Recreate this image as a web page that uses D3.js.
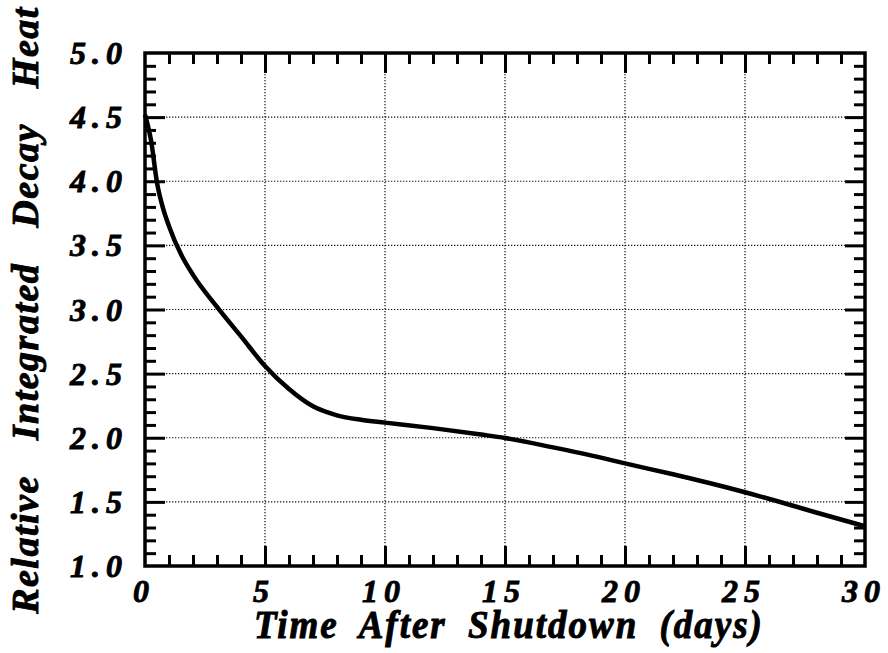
<!DOCTYPE html>
<html>
<head>
<meta charset="utf-8">
<script src="https://cdn.jsdelivr.net/npm/d3@7"></script>
<style>
  body { margin: 0; background: #fff; }
  text { font-family: "Liberation Serif", "Times New Roman", serif; font-weight: bold; font-style: italic;
         fill: #000; stroke: #000; stroke-width: 0.9px; }
</style>
</head>
<body>
<svg id="chart"></svg>
<script>
// values
const days = [0, 0.25, 0.5, 0.75, 1, 1.5, 2, 3, 4, 5, 6, 7, 8, 9, 10, 12, 14, 15, 17, 19, 20, 22, 25, 27, 28, 30];
const heat = [4.52, 4.32, 3.99, 3.79, 3.65, 3.43, 3.27, 3.02, 2.79, 2.56, 2.38, 2.245, 2.175, 2.14, 2.118, 2.075, 2.025, 1.998, 1.925, 1.845, 1.80, 1.715, 1.575, 1.47, 1.415, 1.31];
const xMajor = [0, 5, 10, 15, 20, 25, 30];
const yMajor = [1.0, 1.5, 2.0, 2.5, 3.0, 3.5, 4.0, 4.5, 5.0];
const xTitle = "Time After Shutdown (days)";
const yTitle = "Relative Integrated Decay Heat";

const W = 888, H = 653;
const margin = {top: 53, right: 23, bottom: 87, left: 145};
const w = W - margin.left - margin.right, h = H - margin.top - margin.bottom;

const svg = d3.select("#chart").attr("width", W).attr("height", H);
const g = svg.append("g").attr("transform", `translate(${margin.left},${margin.top})`);

const x = d3.scaleLinear().domain([0, 30]).range([0, w]);
const y = d3.scaleLinear().domain([1, 5]).range([h, 0]);

const xMinor = d3.range(1, 30).filter(d => d % 5 !== 0);
const yMinor = d3.range(11, 50).map(d => d / 10).filter(d => Math.round(d * 10) % 5 !== 0);
const xInner = xMajor.slice(1, -1), yInner = yMajor.slice(1, -1);

// dotted grid
g.append("g").selectAll("line").data(xInner).join("line")
  .attr("x1", d => x(d)).attr("x2", d => x(d)).attr("y1", 0).attr("y2", h)
  .attr("stroke", "#111").attr("stroke-width", 1.2).attr("stroke-dasharray", "1.3,1.7");
g.append("g").selectAll("line").data(yInner).join("line")
  .attr("y1", d => y(d)).attr("y2", d => y(d)).attr("x1", 0).attr("x2", w)
  .attr("stroke", "#111").attr("stroke-width", 1.2).attr("stroke-dasharray", "1.3,1.7");

// inward ticks on all four sides
const sides = [
  [() => d3.axisBottom(x), `translate(0,${h})`, xMinor, xInner],
  [() => d3.axisTop(x), "translate(0,0)", xMinor, xInner],
  [() => d3.axisLeft(y), "translate(0,0)", yMinor, yInner],
  [() => d3.axisRight(y), `translate(${w},0)`, yMinor, yInner]
];
sides.forEach(([makeAxis, tr, minor, major]) => {
  [[minor, 11], [major, 20]].forEach(([vals, len]) => {
    const a = g.append("g").attr("transform", tr)
      .call(makeAxis().tickValues(vals).tickSizeInner(-len).tickSizeOuter(0).tickFormat(""));
    a.select(".domain").remove();
    a.selectAll("line").attr("stroke", "#000").attr("stroke-width", 3);
  });
});

// frame
g.append("rect").attr("width", w).attr("height", h)
  .attr("fill", "none").attr("stroke", "#000").attr("stroke-width", 3.5);

// curve
const line = d3.line().x(d => x(d[0])).y(d => y(d[1])).curve(d3.curveMonotoneX);
g.append("path").datum(days.map((d, i) => [d, heat[i]]))
  .attr("d", line).attr("fill", "none").attr("stroke", "#000").attr("stroke-width", 4.5)
  .attr("stroke-linejoin", "round");

// tick labels
g.append("g").selectAll("text").data(xMajor).join("text")
  .attr("x", d => x(d) - 1).attr("y", h + 36)
  .attr("text-anchor", "middle").style("font-size", "32px").style("letter-spacing", "6px")
  .text(d => d);
g.append("g").selectAll("text").data(yMajor).join("text")
  .attr("x", -17).attr("y", d => y(d) + 11)
  .attr("text-anchor", "end").style("font-size", "32px").style("letter-spacing", "6px")
  .text(d => d.toFixed(1));

// axis titles
svg.append("text").attr("transform", "translate(509,638) scale(1,1.08)")
  .attr("text-anchor", "middle").style("font-size", "37px")
  .style("letter-spacing", "2px").style("word-spacing", "10px")
  .text(xTitle);
svg.append("text").attr("transform", "translate(38,310) rotate(-90)")
  .attr("text-anchor", "middle").style("font-size", "38px")
  .style("letter-spacing", "1.5px").style("word-spacing", "24px")
  .text(yTitle);
</script>
</body>
</html>
